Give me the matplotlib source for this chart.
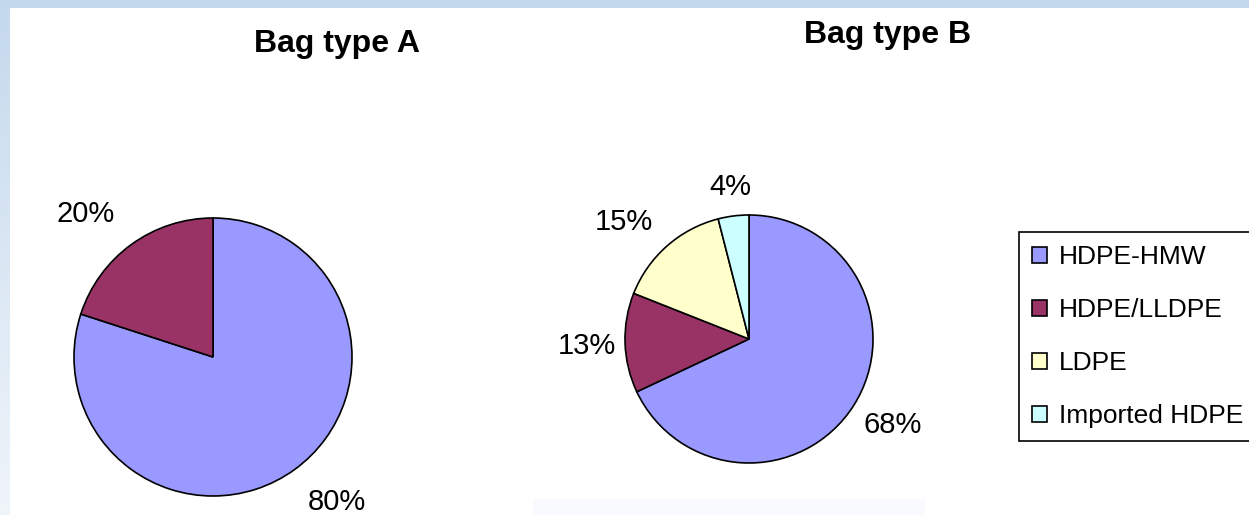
import numpy as np
import matplotlib.pyplot as plt
from matplotlib.patches import Rectangle

plt.rcParams['font.family'] = ['Liberation Sans', 'DejaVu Sans']

# data
categories = ["HDPE-HMW", "HDPE/LLDPE", "LDPE", "Imported HDPE"]
colors = ["#9999FF", "#993366", "#FFFFCC", "#CCFFFF"]
bag_a_values = [80, 20]
bag_b_values = [68, 13, 15, 4]

# gap between pie edge and its percentage label (fraction of radius)
bag_a_label_dist = [1.165, 1.20]
bag_b_label_dist = [1.09, 1.07, 1.17, 1.17]

W, H = 1249, 515
fig = plt.figure(figsize=(W / 100, H / 100), dpi=100)
ax = fig.add_axes([0, 0, 1, 1])

# slide-style background: light blue gradient with a white panel
grad = np.linspace(0, 1, 256)[:, None]
top_col = np.array([0.77, 0.85, 0.93])
bot_col = np.array([0.94, 0.96, 0.98])
img = (top_col * (1 - grad) + bot_col * grad)[:, :, None].transpose(0, 2, 1)
ax.imshow(img, extent=(0, W, 0, H), aspect='auto', zorder=0)
ax.add_patch(Rectangle((10, 0), W - 10, H - 8, facecolor='white', edgecolor='none', zorder=0.5))
ax.add_patch(Rectangle((533, 0), 392, 16, facecolor='#f8fafd', edgecolor='none', zorder=0.6))

wprops = dict(edgecolor='black', linewidth=1.2)


def draw_pie(values, center, radius, dists):
    wedges, _ = ax.pie(values, colors=colors[:len(values)], startangle=90,
                       counterclock=False, center=center, radius=radius,
                       wedgeprops=wprops)
    for w, v, d in zip(wedges, values, dists):
        ang = np.deg2rad((w.theta1 + w.theta2) / 2)
        c, s = np.cos(ang), np.sin(ang)
        x = w.center[0] + d * w.r * c
        y = w.center[1] + d * w.r * s
        # label sits outside the anchor point, like Excel's outside-end labels
        ha = 'right' if c < -0.3 else ('left' if c > 0.3 else 'center')
        va = 'baseline' if s > 0.3 else ('top' if s < -0.3 else 'center_baseline')
        ax.text(x, y, f"{v}%", ha=ha, va=va, fontsize=21, zorder=3)
    return wedges


wedges_a = draw_pie(bag_a_values, (213, H - 357), 139, bag_a_label_dist)
wedges_b = draw_pie(bag_b_values, (749, H - 339), 124, bag_b_label_dist)

ax.text(337, H - 52, "Bag type A", ha='center', va='baseline',
        fontsize=23, fontweight='bold', zorder=3)
ax.text(888, H - 43, "Bag type B", ha='center', va='baseline',
        fontsize=23, fontweight='bold', zorder=3)

leg = ax.legend(wedges_b, categories, loc='upper left',
                bbox_to_anchor=(1019, H - 232), bbox_transform=ax.transData,
                borderaxespad=0, fancybox=False, framealpha=1,
                edgecolor='black', fontsize=19, handlelength=0.57,
                handleheight=0.57, handletextpad=0.45, labelspacing=1.1,
                borderpad=0.5)
leg.get_frame().set_linewidth(1.2)

ax.set_xlim(0, W)
ax.set_ylim(0, H)
ax.set_aspect('auto')
ax.axis('off')

fig.savefig('out.png', dpi=100)
